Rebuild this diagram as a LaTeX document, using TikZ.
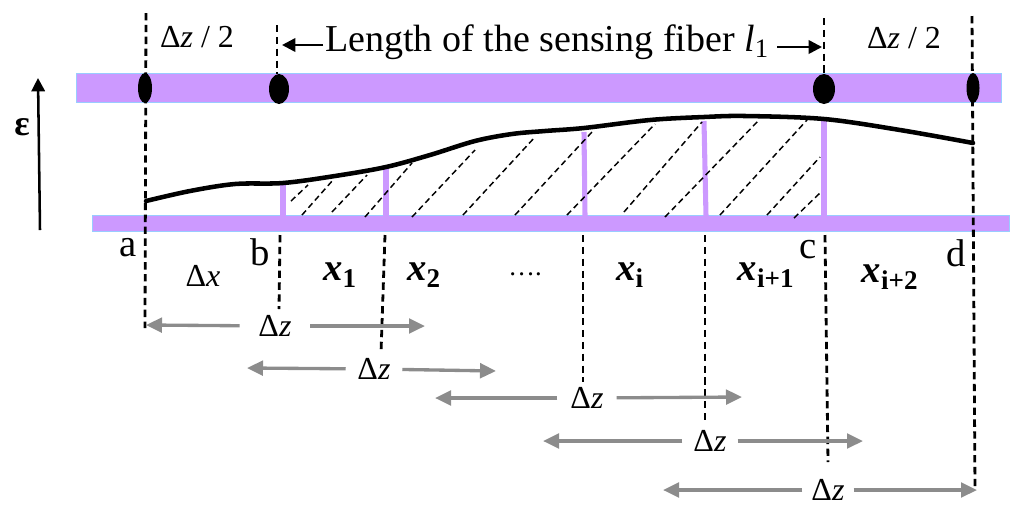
\documentclass[tikz,border=0pt]{standalone}
\usepackage{fontspec}
\setmainfont{Liberation Serif}
\usetikzlibrary{calc,positioning,arrows.meta}
\definecolor{fiber}{HTML}{CC99FF}
\definecolor{fiberedge}{HTML}{99CCFF}
\definecolor{spanline}{HTML}{8C8C8C}

\begin{document}
\begin{tikzpicture}[
	%	style def
    x=0.75pt, y=-0.75pt,
    fiber bar/.style={fill=fiber, draw=fiberedge, line width=0.6pt},
    fiber tick/.style={draw=fiber, line width=3.8pt},
    cut line/.style={black, line width=2.1pt, dash pattern=on 5.5pt off 3.4pt},
    hatch line/.style={black, line width=1.1pt, dash pattern=on 4.5pt off 2.8pt},
    span arrow/.style={draw=spanline, line width=2.5pt, -{Triangle[length=12pt,width=11pt]}},
    size arrow/.style={black, line width=1.9pt, -{Triangle[length=10pt,width=10pt]}},
    dz label/.style={font=\fontsize{24}{26}\selectfont, inner sep=3pt},
    big label/.style={font=\fontsize{29}{31}\selectfont, inner sep=0pt},
    sec label/.style={font=\fontsize{29}{32}\selectfont\bfseries\itshape, inner sep=0pt}
    ]
	\useasboundingbox (0,0) rectangle (1024,512);

	% the two fiber bars
	\draw[fiber bar] (76,73) rectangle (1001,102);
	\draw[fiber bar] (92,215) rectangle (1009,231);

	% purple ticks up to the curve
	\draw[fiber tick] (283,184) coordinate (t1) -- (283,216);
	\draw[fiber tick] (386,169) coordinate (t2) -- (386,216);
	\draw[fiber tick] (584,132) coordinate (t3) -- (585,216);
	\draw[fiber tick] (704,121) coordinate (t4) -- (706,216);
	\draw[fiber tick] (824,120) coordinate (t5) -- (824,216);

	% hatching below the curve
	\foreach \xa/\ya/\xb/\yb in {291/201/308/185, 302/215/333/180, 332/212/367/175,
		365/217/412/163, 412/217/475/150, 463/215/535/137, 515/215/592/132,
		567/215/655/124, 624/212/702/122, 665/217/759/120, 720/215/807/120,
		767/215/820/157, 794/218/820/193}
		\draw[hatch line] (\xa,\ya) -- (\xb,\yb);

	% strain curve
	\draw[black, line width=3.4pt, line cap=round] plot[smooth, tension=0.55] coordinates {
		(146,201) (190,191) (235,184) (283,183) (335,176) (386,167) (430,155)
		(475,141) (512,134) (545,131) (584,128) (650,120) (704,117) (745,116) (824,119) (900,130) (973,143)};

	% vertical dashed cuts
	\draw[cut line] (146,13) coordinate (a top) -- (145,328) coordinate (a end);
	\draw[cut line] (277,25) coordinate (b top) -- (277,74);
	\draw[cut line] (280,235) -- (279,309);
	\draw[cut line] (385,235) -- (381,353);
	\draw[cut line] (583,235) -- (583,382);
	\draw[cut line] (705,235) -- (705,422);
	\draw[cut line] (824,18) coordinate (c top) -- (824,75);
	\draw[cut line] (825,235) -- (828,462);
	\draw[cut line] (972,16) coordinate (d top) -- (975,490) coordinate (d end);

	% points on the top bar
	\fill[black] (145,88) ellipse [x radius=7, y radius=15]
		(279,89) ellipse [x radius=10, y radius=15]
		(824,89) ellipse [x radius=11, y radius=15]
		(973,88) ellipse [x radius=6.5, y radius=15];

	% strain axis
	\draw[size arrow] (40,230) coordinate (eps low) -- (38,78) coordinate (eps high);
	\node[font=\fontsize{27}{29}\selectfont\bfseries, inner sep=0pt] (eps) at (22,127) {ε};

	% top labels
	\node[dz label] (half left) at (197,37) {Δ\textit{z} / 2};
	\node[dz label] (half right) at (904,38) {Δ\textit{z} / 2};
	\node[font=\fontsize{28.5}{30}\selectfont, inner sep=0pt] (len) at (547,42) {Length of the sensing fiber \textit{l}\textsubscript{1}};
	\coordinate (len left) at (282,45);
	\coordinate (len right) at (822,47);
	\draw[size arrow] (323,45) -- (len left);
	\draw[size arrow] (777,47) -- (len right);

	% point names
	\node[big label] (a) at (128,248) {a};
	\node[big label] (b) at (260,252) {b};
	\node[big label] (c) at (808,250) {c};
	\node[big label] (d) at (956,253) {d};

	% section names
	\node[dz label] (dx) at (203,276) {Δ\textit{x}};
	\node[sec label] (x1) at (340,275) {x\textsubscript{\upshape 1}};
	\node[sec label] (x2) at (424,275) {x\textsubscript{\upshape 2}};
	\node[font=\fontsize{20}{22}\selectfont, inner sep=3pt] (dots) at (525,274) {….};
	\node[sec label] (xi) at (630,275) {x\textsubscript{\upshape i}};
	\node[sec label] (xi1) at (766,275) {x\textsubscript{\upshape i+1}};
	\node[sec label] (xi2) at (890,277) {x\textsubscript{\upshape i+2}};

	% spans of one gauge length
	\node[dz label, minimum width=52.5pt] (dz1) at (275,326) {Δ\textit{z}};
	\coordinate (dz1 l) at (146,325);
	\coordinate (dz1 r) at (425,326);
	\node[dz label, minimum width=42pt] (dz2) at (374,369) {Δ\textit{z}};
	\coordinate (dz2 l) at (247,368);
	\coordinate (dz2 r) at (496,371);
	\node[dz label, minimum width=44pt] (dz3) at (587,398) {Δ\textit{z}};
	\coordinate (dz3 l) at (435,398);
	\coordinate (dz3 r) at (742,397);
	\node[dz label, minimum width=41pt] (dz4) at (710,441) {Δ\textit{z}};
	\coordinate (dz4 l) at (543,441);
	\coordinate (dz4 r) at (863,441);
	\node[dz label, minimum width=38pt] (dz5) at (828,490) {Δ\textit{z}};
	\coordinate (dz5 l) at (663,490);
	\coordinate (dz5 r) at (977,490);
	\foreach \n in {1,...,5} {
		\draw[span arrow] (dz\n) -- (dz\n\space l);
		\draw[span arrow] (dz\n) -- (dz\n\space r);
	}
\end{tikzpicture}
\end{document}
